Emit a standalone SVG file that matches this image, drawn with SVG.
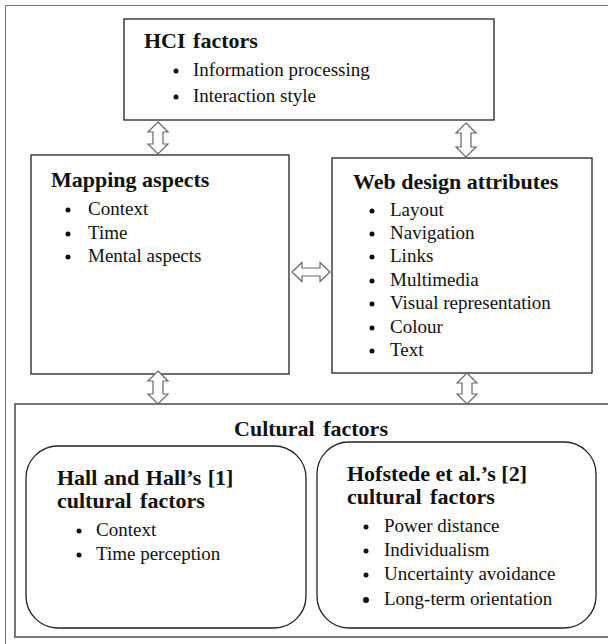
<svg xmlns="http://www.w3.org/2000/svg" width="608" height="644" viewBox="0 0 608 644">
<style>
.box{fill:#fff;stroke:#222;stroke-width:1.3}
.t{font-family:"Liberation Serif","Times New Roman",serif;font-size:19px;fill:#111}
.h{font-family:"Liberation Serif","Times New Roman",serif;font-size:22px;font-weight:bold;fill:#111}
.arr{fill:#fff;stroke:#666;stroke-width:1.2}
.b{fill:#111}
</style>
<rect x="0" y="0" width="608" height="644" fill="#fff"/>
<path d="M5.5,644 L5.5,5.5 L608,5.5" fill="none" stroke="#777" stroke-width="1"/>
<g id="hci">
<rect class="box" x="124" y="19" width="370" height="101"/>
<text class="h" x="144" y="48" word-spacing="2">HCI factors</text>
<circle class="b" cx="176" cy="71" r="2.5"/><text class="t" x="193" y="76">Information processing</text>
<circle class="b" cx="176" cy="97" r="2.5"/><text class="t" x="193" y="102">Interaction style</text>
</g>
<g id="mapping">
<rect class="box" x="31" y="155" width="258" height="219"/>
<text class="h" x="51" y="187">Mapping aspects</text>
<circle class="b" cx="68" cy="210" r="2.5"/><text class="t" x="88" y="215">Context</text>
<circle class="b" cx="68" cy="234" r="2.5"/><text class="t" x="88" y="239">Time</text>
<circle class="b" cx="68" cy="257" r="2.5"/><text class="t" x="88" y="262">Mental aspects</text>
</g>
<g id="web">
<rect class="box" x="332" y="158" width="260" height="215"/>
<text class="h" x="353" y="189">Web design attributes</text>
<circle class="b" cx="372" cy="211" r="2.5"/><text class="t" x="390" y="216">Layout</text>
<circle class="b" cx="372" cy="234" r="2.5"/><text class="t" x="390" y="239">Navigation</text>
<circle class="b" cx="372" cy="257" r="2.5"/><text class="t" x="390" y="262">Links</text>
<circle class="b" cx="372" cy="281" r="2.5"/><text class="t" x="390" y="286">Multimedia</text>
<circle class="b" cx="372" cy="304" r="2.5"/><text class="t" x="390" y="309">Visual representation</text>
<circle class="b" cx="372" cy="328" r="2.5"/><text class="t" x="390" y="333">Colour</text>
<circle class="b" cx="372" cy="351" r="2.5"/><text class="t" x="390" y="356">Text</text>
</g>
<g id="cultural">
<rect x="15" y="404" width="600" height="233" fill="#fff" stroke="#777" stroke-width="2"/>
<text class="h" x="311" y="436" text-anchor="middle" word-spacing="3">Cultural factors</text>
</g>
<g id="hall">
<rect class="box" x="26" y="446" width="280" height="182" rx="32" ry="32"/>
<text class="h" x="57" y="485" word-spacing="1">Hall and Hall’s [1]</text>
<text class="h" x="57" y="508" word-spacing="3">cultural factors</text>
<circle class="b" cx="79" cy="531" r="2.5"/><text class="t" x="96" y="536">Context</text>
<circle class="b" cx="79" cy="555" r="2.5"/><text class="t" x="96" y="560">Time perception</text>
</g>
<g id="hofstede">
<rect class="box" x="317" y="442" width="279" height="186" rx="32" ry="32"/>
<text class="h" x="347" y="481">Hofstede et al.’s [2]</text>
<text class="h" x="347" y="504" word-spacing="3">cultural factors</text>
<circle class="b" cx="366" cy="527" r="2.5"/><text class="t" x="384" y="532">Power distance</text>
<circle class="b" cx="366" cy="551" r="2.5"/><text class="t" x="384" y="556">Individualism</text>
<circle class="b" cx="366" cy="575" r="2.5"/><text class="t" x="384" y="580">Uncertainty avoidance</text>
<circle class="b" cx="366" cy="600" r="3"/><text class="t" x="384" y="605">Long-term orientation</text>
</g>
<g id="connectors">
<path class="arr" d="M158,122 L168,132 L163,132 L163,144 L168,144 L158,154 L148,144 L153,144 L153,132 L148,132 Z"/>
<path class="arr" d="M466,123 L476,133 L471,133 L471,147 L476,147 L466,157 L456,147 L461,147 L461,133 L456,133 Z"/>
<path class="arr" d="M292,272 L302,262.5 L302,268 L320,268 L320,262.5 L330,272 L320,281.5 L320,276 L302,276 L302,281.5 Z"/>
<path class="arr" d="M158,371 L168,381 L163,381 L163,394 L168,394 L158,404 L148,394 L153,394 L153,381 L148,381 Z"/>
<path class="arr" d="M467,373 L477,383 L472,383 L472,394 L477,394 L467,404 L457,394 L462,394 L462,383 L457,383 Z"/>
</g>
</svg>
